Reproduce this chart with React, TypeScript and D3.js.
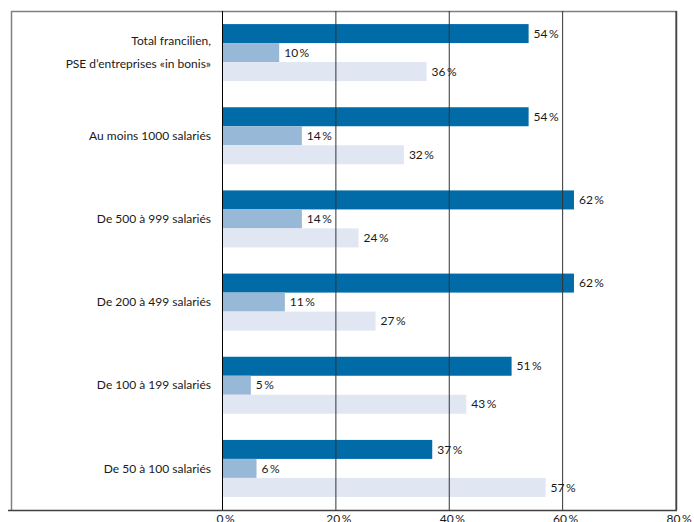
import React from "react";
import * as d3 from "d3";

const categories = [
  ["Total francilien,", "PSE d\u2019entreprises \u00abin bonis\u00bb"],
  ["Au moins 1000 salariés"],
  ["De 500 à 999 salariés"],
  ["De 200 à 499 salariés"],
  ["De 100 à 199 salariés"],
  ["De 50 à 100 salariés"],
];
const seriesA = [54, 54, 62, 62, 51, 37];
const seriesB = [10, 14, 14, 11, 5, 6];
const seriesC = [36, 32, 24, 27, 43, 57];
const ticks = [0, 20, 40, 60, 80];

const W = 694;
const H = 522;
const colors = ["#006BA6", "#98B8D8", "#E0E6F2"];
const FONT = "Lato, 'Open Sans', sans-serif";

export default function App() {
  const x = d3.scaleLinear().domain([0, 80]).range([222.5, 676]);
  const y = d3
    .scaleBand<number>()
    .domain(d3.range(categories.length))
    .range([11, 510])
    .paddingInner(0)
    .paddingOuter(0);
  const barH = 19;
  const series = [seriesA, seriesB, seriesC];
  const top = 11;
  const bottom = 510;

  return (
    <svg
      width={W}
      height={H}
      style={{ position: "absolute", left: 0, top: 0, display: "block", background: "#fff" }}
      fontFamily={FONT}
    >
      {/* frame */}
      <line x1={11.5} x2={11.5} y1={top} y2={bottom} stroke="#808080" strokeWidth={1.5} />
      <line x1={11} x2={676.5} y1={11.5} y2={11.5} stroke="#808080" strokeWidth={1.5} />
      <line x1={676.5} x2={676.5} y1={top} y2={bottom} stroke="#555" strokeWidth={1.5} />

      {/* bars */}
      {series.map((s, si) =>
        s.map((v, i) => {
          const band = y(i)!;
          const y0 = band + (y.bandwidth() - 3 * barH) / 2 + si * barH;
          return (
            <g key={`${si}-${i}`}>
              <rect x={x(0)} y={y0} width={x(v) - x(0)} height={barH} fill={colors[si]} />
            </g>
          );
        })
      )}

      {/* gridlines */}
      {ticks.map((t, k) => (
        <line
          key={t}
          x1={x(t)}
          x2={x(t)}
          y1={top}
          y2={bottom}
          stroke={k === 0 ? "#000" : "#333"}
          strokeWidth={1}
        />
      ))}

      {/* value labels */}
      {series.map((s, si) =>
        s.map((v, i) => {
          const band = y(i)!;
          const y0 = band + (y.bandwidth() - 3 * barH) / 2 + si * barH;
          return (
            <text
              key={`l-${si}-${i}`}
              x={x(v) + 5}
              y={y0 + barH / 2}
              dy="0.35em"
              fontSize={12}
              fill="#1a1a1a"
            >
              {`${v}\u2009%`}
            </text>
          );
        })
      )}

      {/* category labels */}
      {categories.map((lines, i) => {
        const cy = y(i)! + y.bandwidth() / 2;
        const n = lines.length;
        return lines.map((ln, j) => (
          <text
            key={`c-${i}-${j}`}
            x={211}
            y={cy + (j - (n - 1) / 2) * 23}
            dy="0.35em"
            textAnchor="end"
            fontSize={12}
            fill="#1a1a1a"
          >
            {ln}
          </text>
        ));
      })}

      {/* bottom axis */}
      <line x1={8} x2={677} y1={bottom + 0.5} y2={bottom + 0.5} stroke="#404040" strokeWidth={1.5} />
      {ticks.map((t) => (
        <text key={`t-${t}`} x={x(t) + 3} y={523} textAnchor="middle" fontSize={12} fill="#1a1a1a">
          {`${t}\u2009%`}
        </text>
      ))}
    </svg>
  );
}
